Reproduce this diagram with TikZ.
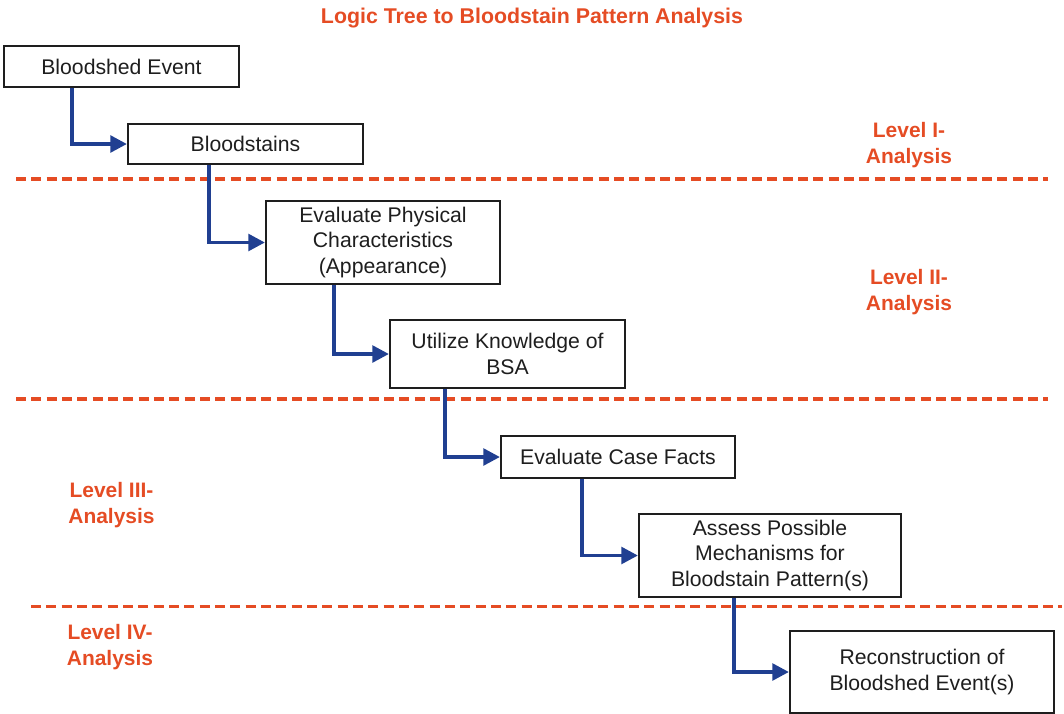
\documentclass[tikz,border=0pt]{standalone}
\usepackage{fontspec}
\setmainfont{Liberation Sans}
\usetikzlibrary{arrows.meta,calc}
\definecolor{levelred}{RGB}{229,76,36}
\definecolor{flowblue}{RGB}{32,63,145}
\definecolor{ink}{RGB}{30,30,30}
\begin{document}
\begin{tikzpicture}[x=0.75pt,y=-0.75pt,
  stepbox/.style 2 args={draw=ink, line width=1.6pt, fill=white, inner sep=0pt,
    minimum width=#1*0.75pt, minimum height=#2*0.75pt, align=center,
    text=ink, font=\fontsize{15.9}{19.1}\selectfont},
  flow/.style={draw=flowblue, line width=2.8pt,
    -{Triangle[length=12.5pt,width=12.5pt]}},
  level/.style={text=levelred, align=center,
    font=\fontsize{15.7}{19.5}\selectfont\bfseries},
  separator/.style={draw=levelred, line width=2.3pt,
    dash pattern=on 7.5pt off 4pt}
]
\useasboundingbox (0,0) rectangle (1064,714);

% title
\node[text=levelred, font=\fontsize{16}{19}\selectfont\bfseries, anchor=base]
  (title) at (532,23) {Logic Tree to Bloodstain Pattern Analysis};

% level separators
\draw[separator] (16,179) -- (1048,179);
\draw[separator] (16,399) -- (1048,399);
\draw[separator] (31,606.5) -- (1062,606.5);

% level labels
\node[level] (l1) at (909,145)   {Level I-\\Analysis};
\node[level] (l2) at (909,292)   {Level II-\\Analysis};
\node[level] (l3) at (111.5,505.5) {Level III-\\Analysis};
\node[level] (l4) at (110,647.5) {Level IV-\\Analysis};

% steps
\node[stepbox={235}{41}] (b1) at (121.5,66.5) {Bloodshed Event};
\node[stepbox={235}{40}] (b2) at (245.5,144)  {Bloodstains};
\node[stepbox={234}{83}] (b3) at (383,242.5)  {Evaluate Physical\\Characteristics\\(Appearance)};
\node[stepbox={235}{68}] (b4) at (507.5,354)  {Utilize Knowledge of\\BSA};
\node[stepbox={234}{42}] (b5) at (618,457)    {Evaluate Case Facts};
\node[stepbox={262}{83}] (b6) at (770,555.5)  {Assess Possible\\Mechanisms for\\Bloodstain Pattern(s)};
\node[stepbox={264}{82}] (b7) at (922,672)    {Reconstruction of\\Bloodshed Event(s)};

% connectors
\draw[flow] ($(b1.south west)+(69,0)$) |- (b2.west);
\draw[flow] ($(b2.south west)+(82,0)$) |- (b3.west);
\draw[flow] ($(b3.south west)+(69,0)$) |- (b4.west);
\draw[flow] ($(b4.south west)+(56,0)$) |- (b5.west);
\draw[flow] ($(b5.south west)+(82,0)$) |- (b6.west);
\draw[flow] ($(b6.south west)+(96,0)$) |- (b7.west);
\end{tikzpicture}
\end{document}
